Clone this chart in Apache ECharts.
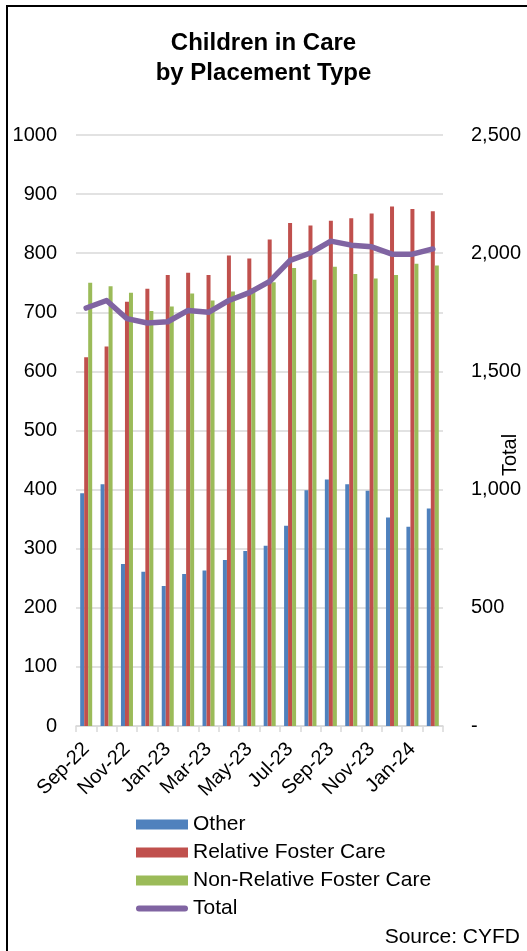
<!DOCTYPE html>
<html><head><meta charset="utf-8">
<script src="https://cdn.jsdelivr.net/npm/echarts@6/dist/echarts.min.js"></script>
<style>
html,body{margin:0;padding:0;background:#fff;overflow:hidden;}
#frame{position:absolute;left:6px;top:5px;width:600px;height:1000px;border:2px solid #000;box-sizing:border-box;}
#chart{position:absolute;left:0;top:0;width:527px;height:951px;}
</style></head>
<body>
<div id="frame"></div>
<div id="chart"></div>
<script>
const categories = ['Sep-22','Oct-22','Nov-22','Dec-22','Jan-23','Feb-23','Mar-23','Apr-23','May-23','Jun-23','Jul-23','Aug-23','Sep-23','Oct-23','Nov-23','Dec-23','Jan-24','Feb-24'];
const other = [394,409,274,261,237,257,263,281,296,305,339,399,417,409,398,353,337,368];
const relative = [624,642,718,740,763,767,763,796,791,823,851,847,855,859,867,879,875,871];
const nonRelative = [750,744,733,702,710,732,720,735,741,751,775,755,777,765,757,763,782,779];
const total = [1768,1800,1723,1705,1710,1758,1750,1800,1833,1881,1970,2001,2051,2034,2027,1996,1996,2018];
const leftTicks = [0,100,200,300,400,500,600,700,800,900,1000];
const rightTicks = [0,500,1000,1500,2000,2500];

const FONT = 'Liberation Sans, Arial, sans-serif';
const chart = echarts.init(document.getElementById('chart'), null, {renderer:'canvas'});
chart.setOption({
  animation:false,
  textStyle:{fontFamily:FONT, color:'#000'},
  title:{
    text:'Children in Care\nby Placement Type',
    left:'center', top:23,
    textStyle:{fontFamily:FONT, fontSize:24, fontWeight:'bold', color:'#000', lineHeight:30}
  },
  legend:{
    orient:'vertical', left:131, top:809, itemWidth:52, itemHeight:10, itemGap:7,
    textStyle:{fontFamily:FONT, fontSize:21, color:'#000'},
    data:[
      {name:'Other', icon:'rect'},
      {name:'Relative Foster Care', icon:'rect'},
      {name:'Non-Relative Foster Care', icon:'rect'},
      {name:'Total', icon:'path://M3,0 L49,0 A3,3 0 0 1 49,6 L3,6 A3,3 0 0 1 3,0 Z'}
    ]
  },
  graphic:[{
    type:'text', right:7, top:927,
    style:{text:'Source: CYFD', font:'21px Liberation Sans, Arial, sans-serif', fill:'#000'}
  },{
    type:'text', x:510, y:455, rotation:Math.PI/2,
    style:{text:'Total', font:'20px Liberation Sans, Arial, sans-serif', fill:'#000', align:'center', verticalAlign:'middle'}
  }],
  grid:{left:76, right:84, top:135, bottom:225, containLabel:false, outerBoundsMode:'none'},
  xAxis:{
    type:'category', data:categories, boundaryGap:true,
    axisLine:{lineStyle:{color:'#d9d9d9', width:1.5}},
    axisTick:{show:true, alignWithLabel:false, interval:0, length:6, lineStyle:{color:'#d9d9d9', width:1.5}},
    axisLabel:{interval:1, rotate:45, fontSize:20, color:'#000', fontFamily:FONT, margin:20}
  },
  yAxis:[{
    type:'value', min:leftTicks[0], max:leftTicks[leftTicks.length-1], interval:100,
    axisLine:{show:false}, axisTick:{show:false},
    splitLine:{lineStyle:{color:'#d9d9d9', width:1.5}},
    axisLabel:{fontSize:20, color:'#000', fontFamily:FONT, margin:19, formatter:function(v){return String(v);}}
  },{
    type:'value', min:rightTicks[0], max:rightTicks[rightTicks.length-1], interval:500,
    axisLine:{show:false}, axisTick:{show:false}, splitLine:{show:false},
    axisLabel:{fontSize:20, color:'#000', fontFamily:FONT, margin:28, align:'left',
      formatter:function(v){ return v===0 ? '-' : v.toLocaleString('en-US'); }}
  }],
  series:[
    {name:'Other', type:'bar', data:other, barWidth:4, barGap:'0%', itemStyle:{color:'#4F81BD'}},
    {name:'Relative Foster Care', type:'bar', data:relative, barWidth:4, barGap:'0%', itemStyle:{color:'#C0504D'}},
    {name:'Non-Relative Foster Care', type:'bar', data:nonRelative, barWidth:4, barGap:'0%', itemStyle:{color:'#9BBB59'}},
    {name:'Total', type:'line', yAxisIndex:1, data:total, symbol:'none', lineStyle:{color:'#8064A2', width:5.5, cap:'round', join:'round'}, itemStyle:{color:'#8064A2'}}
  ]
});
</script>
</body></html>
